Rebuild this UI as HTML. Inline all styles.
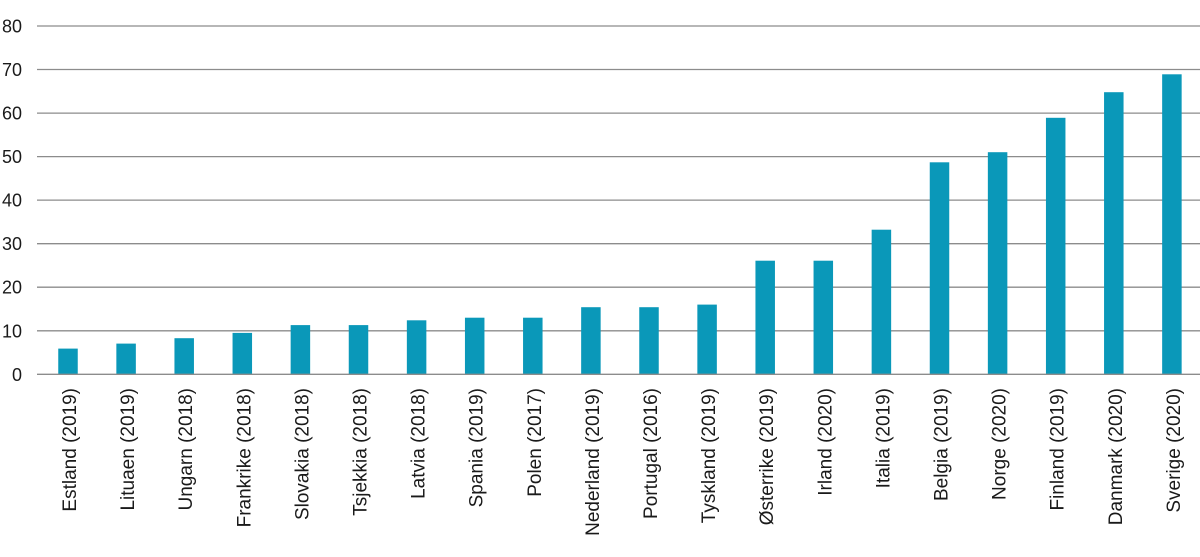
<!DOCTYPE html>
<html>
<head>
<meta charset="utf-8">
<style>
html,body{margin:0;padding:0;background:#fff;}
svg{display:block;}
text{font-family:"Liberation Sans",Arial,sans-serif;fill:#1a1a1a;}
</style>
</head>
<body>
<svg width="1200" height="557" viewBox="0 0 1200 557" xmlns="http://www.w3.org/2000/svg">
<g stroke="#8c8c8c" stroke-width="1.3">
<line x1="37" x2="1200" y1="26" y2="26"/>
<line x1="37" x2="1200" y1="69.5" y2="69.5"/>
<line x1="37" x2="1200" y1="113.1" y2="113.1"/>
<line x1="37" x2="1200" y1="156.6" y2="156.6"/>
<line x1="37" x2="1200" y1="200.1" y2="200.1"/>
<line x1="37" x2="1200" y1="243.7" y2="243.7"/>
<line x1="37" x2="1200" y1="287.2" y2="287.2"/>
<line x1="37" x2="1200" y1="330.8" y2="330.8"/>
</g>
<g font-size="18" text-anchor="end">
<text x="22" y="32.5">80</text>
<text x="22" y="76">70</text>
<text x="22" y="119.6">60</text>
<text x="22" y="163.1">50</text>
<text x="22" y="206.6">40</text>
<text x="22" y="250.2">30</text>
<text x="22" y="293.7">20</text>
<text x="22" y="337.3">10</text>
<text x="22" y="380.8">0</text>
</g>
<g fill="#0a98b9">
<rect x="58.25" y="348.6" width="19.5" height="25.7"/>
<rect x="116.35" y="343.6" width="19.5" height="30.7"/>
<rect x="174.45" y="338.2" width="19.5" height="36.1"/>
<rect x="232.55" y="332.9" width="19.5" height="41.4"/>
<rect x="290.65" y="325.1" width="19.5" height="49.2"/>
<rect x="348.75" y="325.1" width="19.5" height="49.2"/>
<rect x="406.85" y="320.3" width="19.5" height="54.0"/>
<rect x="464.95" y="317.7" width="19.5" height="56.6"/>
<rect x="523.05" y="317.7" width="19.5" height="56.6"/>
<rect x="581.15" y="307.2" width="19.5" height="67.1"/>
<rect x="639.25" y="307.2" width="19.5" height="67.1"/>
<rect x="697.35" y="304.6" width="19.5" height="69.7"/>
<rect x="755.45" y="260.7" width="19.5" height="113.6"/>
<rect x="813.55" y="260.7" width="19.5" height="113.6"/>
<rect x="871.65" y="229.7" width="19.5" height="144.6"/>
<rect x="929.75" y="162.3" width="19.5" height="212.0"/>
<rect x="987.85" y="152.2" width="19.5" height="222.1"/>
<rect x="1045.95" y="117.8" width="19.5" height="256.5"/>
<rect x="1104.05" y="92.2" width="19.5" height="282.1"/>
<rect x="1162.15" y="74.3" width="19.5" height="300.0"/>
</g>
<line x1="37" x2="1200" y1="374.3" y2="374.3" stroke="#8c8c8c" stroke-width="1.3"/>
<g font-size="19" text-anchor="end">
<text transform="translate(76,388) rotate(-90)">Estland (2019)</text>
<text transform="translate(134.1,388) rotate(-90)">Lituaen (2019)</text>
<text transform="translate(192.2,388) rotate(-90)">Ungarn (2018)</text>
<text transform="translate(250.3,388) rotate(-90)">Frankrike (2018)</text>
<text transform="translate(308.4,388) rotate(-90)">Slovakia (2018)</text>
<text transform="translate(366.5,388) rotate(-90)">Tsjekkia (2018)</text>
<text transform="translate(424.6,388) rotate(-90)">Latvia (2018)</text>
<text transform="translate(482.7,388) rotate(-90)">Spania (2019)</text>
<text transform="translate(540.8,388) rotate(-90)">Polen (2017)</text>
<text transform="translate(598.9,388) rotate(-90)">Nederland (2019)</text>
<text transform="translate(657,388) rotate(-90)">Portugal (2016)</text>
<text transform="translate(715.1,388) rotate(-90)">Tyskland (2019)</text>
<text transform="translate(773.2,388) rotate(-90)">Østerrike (2019)</text>
<text transform="translate(831.3,388) rotate(-90)">Irland (2020)</text>
<text transform="translate(889.4,388) rotate(-90)">Italia (2019)</text>
<text transform="translate(947.5,388) rotate(-90)">Belgia (2019)</text>
<text transform="translate(1005.6,388) rotate(-90)">Norge (2020)</text>
<text transform="translate(1063.7,388) rotate(-90)">Finland (2019)</text>
<text transform="translate(1121.8,388) rotate(-90)">Danmark (2020)</text>
<text transform="translate(1179.9,388) rotate(-90)">Sverige (2020)</text>
</g>
</svg>
</body>
</html>
